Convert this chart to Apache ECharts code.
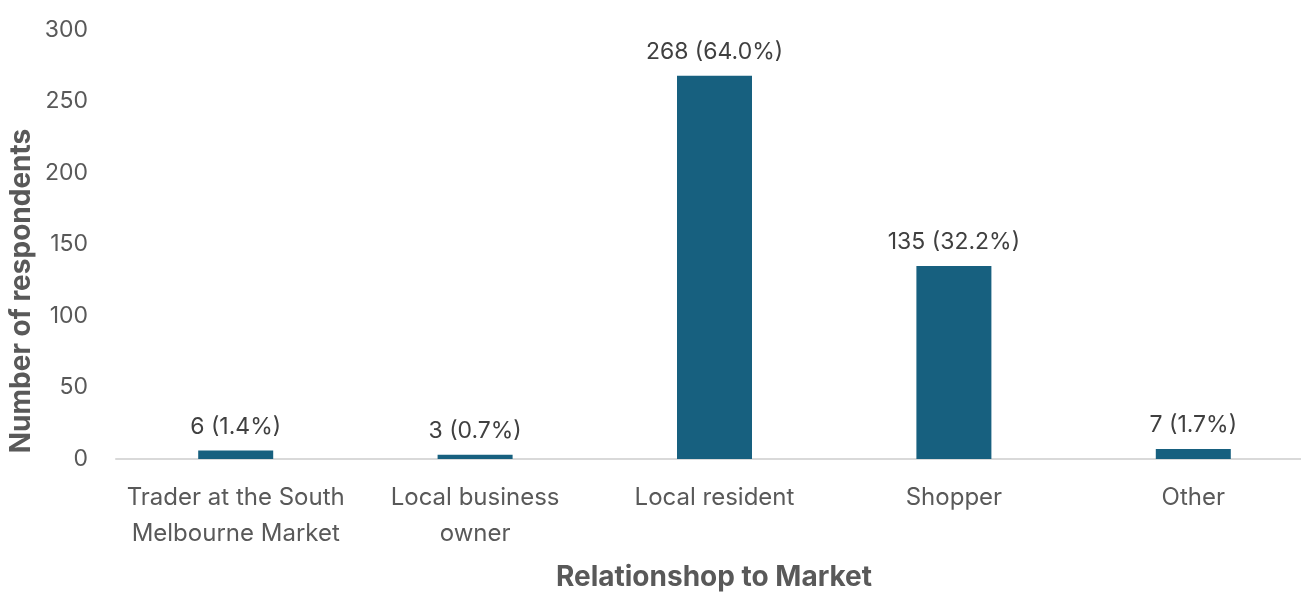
<!DOCTYPE html>
<html>
<head>
<meta charset="utf-8">
<script src="https://cdn.jsdelivr.net/npm/echarts@6/dist/echarts.min.js"></script>
<style>
  html, body { margin: 0; padding: 0; background: #ffffff; overflow: hidden; }
  #chart { width: 1313px; height: 592px; }
</style>
</head>
<body>
<div id="chart"></div>
<script>
// Survey respondents by relationship to the market
const categories = ['Trader at the South\nMelbourne Market', 'Local business\nowner', 'Local resident', 'Shopper', 'Other'];
const counts = [6, 3, 268, 135, 7];
const shares = ['1.4%', '0.7%', '64.0%', '32.2%', '1.7%'];
const yTicks = [0, 50, 100, 150, 200, 250, 300];

const FONT = 'Inter, "Noto Sans", sans-serif';
const chart = echarts.init(document.getElementById('chart'), null, { renderer: 'canvas' });

chart.setOption({
  animation: false,
  grid: { left: 116, right: 0, top: 30, bottom: 133, containLabel: false },
  xAxis: {
    type: 'category',
    data: categories,
    axisLine: { lineStyle: { color: '#d9d9d9', width: 2 } },
    axisTick: { show: false },
    axisLabel: {
      interval: 0,
      color: '#595959', fontFamily: FONT, fontSize: 24, lineHeight: 36, margin: 21
    }
  },
  yAxis: {
    type: 'value',
    min: yTicks[0],
    max: yTicks[yTicks.length - 1],
    interval: 50,
    splitLine: { show: false },
    axisLine: { show: false },
    axisTick: { show: false },
    axisLabel: { color: '#595959', fontFamily: FONT, fontSize: 23, margin: 28 }
  },
  series: [{
    type: 'bar',
    data: counts,
    barWidth: 75,
    itemStyle: { color: '#17607f' },
    label: {
      show: true,
      position: 'top',
      distance: 12,
      color: '#404040',
      fontFamily: FONT,
      fontSize: 23,
      formatter: p => p.value + ' (' + shares[p.dataIndex] + ')'
    }
  }],
  graphic: [
    {
      type: 'text',
      x: 714, y: 578,
      style: { text: 'Relationshop to Market', font: 'bold 28px ' + FONT, fill: '#595959', textAlign: 'center', textVerticalAlign: 'middle' }
    },
    {
      type: 'text',
      x: 22, y: 291,
      rotation: Math.PI / 2,
      style: { text: 'Number of respondents', font: 'bold 28px ' + FONT, fill: '#595959', textAlign: 'center', textVerticalAlign: 'middle' }
    }
  ]
});
</script>
</body>
</html>
